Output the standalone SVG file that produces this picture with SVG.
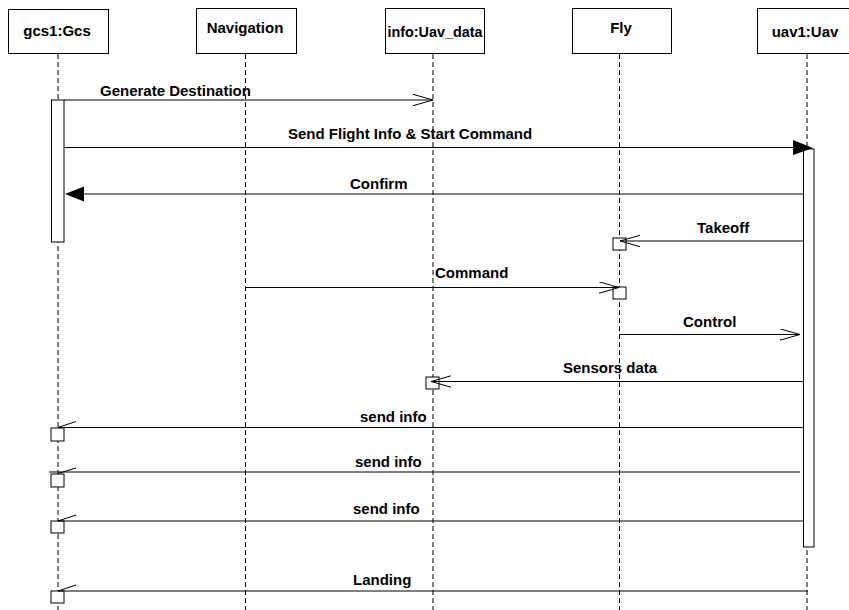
<svg xmlns="http://www.w3.org/2000/svg" width="849" height="610" viewBox="0 0 849 610">
<style>
.box{fill:#fff;stroke:#000;stroke-width:1}
.life{stroke:#000;stroke-width:1;stroke-dasharray:5,3;fill:none}
.msg{stroke:#000;stroke-width:1;fill:none}
.act{fill:#fff;stroke:#000;stroke-width:1}
.t{font-family:"Liberation Sans",Arial,sans-serif;font-size:15px;font-weight:bold;fill:#000}
.c{text-anchor:middle}
</style>
<defs>
<marker id="open" markerWidth="22" markerHeight="14" refX="20" refY="6" orient="auto" markerUnits="userSpaceOnUse">
<path d="M0,0.3 L20,6 L0,11.7" fill="none" stroke="#000" stroke-width="1"/>
</marker>
</defs>
<rect width="849" height="610" fill="#fff"/>
<g id="lifelines">
<line class="life" x1="58" y1="54" x2="58" y2="610"/>
<line class="life" x1="245.5" y1="54" x2="245.5" y2="610"/>
<line class="life" x1="433" y1="54" x2="433" y2="610"/>
<line class="life" x1="619.5" y1="54" x2="619.5" y2="610"/>
<line class="life" x1="807" y1="54" x2="807" y2="610"/>
</g>
<g id="gcs1">
<rect class="box" x="8.5" y="9.5" width="100" height="44"/>
<text class="t c" x="57" y="36">gcs1:Gcs</text>
<rect class="act" x="51.5" y="100" width="12.5" height="142"/>
</g>
<g id="navigation">
<rect class="box" x="196.5" y="8.5" width="100" height="45"/>
<text class="t c" x="245" y="33">Navigation</text>
</g>
<g id="info">
<rect class="box" x="385.5" y="8.5" width="99" height="45"/>
<text class="t c" x="435" y="37" textLength="95" lengthAdjust="spacingAndGlyphs">info:Uav_data</text>
<rect class="box" x="426" y="377" width="13" height="12"/>
</g>
<g id="fly">
<rect class="box" x="572.5" y="8.5" width="99" height="45"/>
<text class="t c" x="621" y="33">Fly</text>
<rect class="box" x="613" y="238" width="13" height="12"/>
<rect class="box" x="613" y="287" width="13" height="12"/>
</g>
<g id="uav1">
<rect class="box" x="757.5" y="8.5" width="92" height="45"/>
<text class="t c" x="805" y="37">uav1:Uav</text>
<rect class="act" x="803.5" y="149" width="10.5" height="398"/>
</g>
<g id="gcs-boxes">
<rect class="box" x="51" y="428" width="13" height="13"/>
<rect class="box" x="51" y="474" width="13" height="13"/>
<rect class="box" x="51" y="521" width="13" height="12"/>
<rect class="box" x="51" y="591" width="13" height="12"/>
</g>
<g id="connectors">
<line class="msg" x1="64" y1="100" x2="433" y2="100" marker-end="url(#open)"/>
<text class="t" x="100" y="96">Generate Destination</text>

<line class="msg" x1="64" y1="147.5" x2="795" y2="147.5"/>
<polygon points="793,140 813,148 793,155" fill="#000"/>
<text class="t" x="288" y="139">Send Flight Info &amp; Start Command</text>

<line class="msg" x1="803" y1="194" x2="80" y2="194"/>
<polygon points="65,194 84,186.5 84,201.5" fill="#000"/>
<text class="t" x="350" y="189">Confirm</text>

<line class="msg" x1="803" y1="241" x2="620" y2="241" marker-end="url(#open)"/>
<text class="t" x="697" y="233">Takeoff</text>

<line class="msg" x1="246" y1="287.5" x2="619" y2="287.5" marker-end="url(#open)"/>
<text class="t" x="435" y="278">Command</text>

<line class="msg" x1="620" y1="334.5" x2="800" y2="334.5" marker-end="url(#open)"/>
<text class="t" x="683" y="327">Control</text>

<line class="msg" x1="803" y1="381.5" x2="431" y2="381.5" marker-end="url(#open)"/>
<text class="t" x="563" y="373">Sensors data</text>

<line class="msg" x1="803" y1="427.5" x2="58" y2="427.5"/>
<line class="msg" x1="58" y1="427.5" x2="76" y2="421.5"/>
<text class="t" x="360" y="422">send info</text>

<line class="msg" x1="800" y1="472" x2="49" y2="472"/>
<line class="msg" x1="58" y1="473.5" x2="76" y2="468"/>
<text class="t" x="355" y="467">send info</text>

<line class="msg" x1="803" y1="521" x2="58" y2="521"/>
<line class="msg" x1="58" y1="521" x2="76" y2="515"/>
<text class="t" x="353" y="514">send info</text>

<line class="msg" x1="808" y1="591" x2="58" y2="591"/>
<line class="msg" x1="58" y1="591" x2="76" y2="585"/>
<text class="t" x="353" y="585">Landing</text>
</g>
</svg>
